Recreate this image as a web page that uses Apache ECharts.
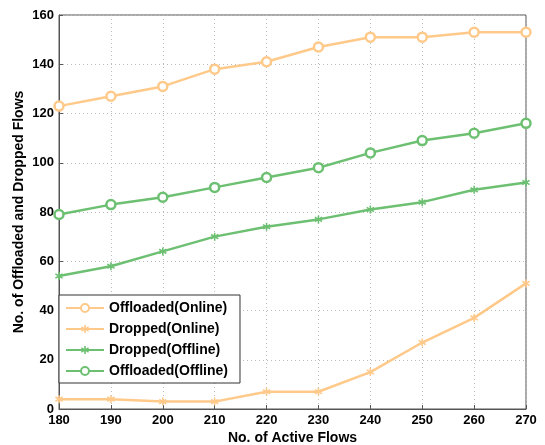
<!DOCTYPE html>
<html><head><meta charset="utf-8">
<script src="https://cdn.jsdelivr.net/npm/echarts@6/dist/echarts.min.js"></script>
<style>html,body{margin:0;padding:0;background:#fff}#c{width:545px;height:445px}</style>
</head><body><div id="c"></div>
<script>
const categories = [180,190,200,210,220,230,240,250,260,270];
const offloadedOnline = [123,127,131,138,141,147,151,151,153,153];
const droppedOnline = [4,4,3,3,7,7,15,27,37,51];
const droppedOffline = [54,58,64,70,74,77,81,84,89,92];
const offloadedOffline = [79,83,86,90,94,98,104,109,112,116];
const yTicks = [0,20,40,60,80,100,120,140,160];

const ORANGE = '#FFC98A', GREEN = '#6DC072';
const starPath = 'path://M-1,-5L1,-5L1,-1.7L4,-3.5L5,-1.8L2,0L5,1.8L4,3.5L1,1.7L1,5L-1,5L-1,1.7L-4,3.5L-5,1.8L-2,0L-5,-1.8L-4,-3.5L-1,-1.7Z';
const font = 'Liberation Sans, Arial, sans-serif';

function mk(name, data, color, symbol, size){
  return {
    name, type:'line', data: categories.map((c,i)=>[c,data[i]]),
    lineStyle:{color, width:2.5},
    itemStyle:{color: symbol==='circle' ? '#fff' : color, borderColor: color, borderWidth: symbol==='circle'?2.5:0},
    symbol, symbolSize: size, showSymbol:true, z: 3
  };
}
const chart = echarts.init(document.getElementById('c'));
chart.setOption({
  animation:false,
  grid:{left:59, right:19, top:15, bottom:36, containLabel:false, outerBoundsMode:'none',
    show:true, borderColor:'#555', borderWidth:1, backgroundColor:'transparent'},
  xAxis:{type:'value', min:180, max:270, interval:10,
    name:'No. of Active Flows', nameLocation:'middle', nameGap:22, nameMoveOverlap:false,
    nameTextStyle:{fontFamily:font, fontWeight:'bold', fontSize:14, color:'#000'},
    axisLine:{show:true, lineStyle:{color:'#555', width:1}},
    axisTick:{show:true, inside:true, length:4, lineStyle:{color:'#555'}},
    axisLabel:{fontFamily:font, fontWeight:'bold', fontSize:13, color:'#000', margin:5},
    splitLine:{show:true, lineStyle:{color:'#bbb', type:[1,3], width:1}}
  },
  yAxis:{type:'value', min:0, max:160, interval:20,
    name:'No. of Offloaded and Dropped Flows', nameLocation:'middle', nameGap:33, nameMoveOverlap:false,
    nameTextStyle:{fontFamily:font, fontWeight:'bold', fontSize:14, color:'#000'},
    axisLine:{show:true, lineStyle:{color:'#555', width:1}},
    axisTick:{show:true, inside:true, length:4, lineStyle:{color:'#555'}},
    axisLabel:{fontFamily:font, fontWeight:'bold', fontSize:13, color:'#000', margin:5,
      formatter: v => yTicks.includes(v) ? String(v) : ''},
    splitLine:{show:true, lineStyle:{color:'#bbb', type:[1,3], width:1}}
  },
  legend:{
    orient:'vertical', left:59, top:295, itemGap:7, itemWidth:38, itemHeight:10,
    padding:[6,12,5,6],
    backgroundColor:'#fff', borderColor:'#333', borderWidth:1,
    textStyle:{fontFamily:font, fontWeight:'bold', fontSize:14, color:'#000'},
    data:['Offloaded(Online)','Dropped(Online)','Dropped(Offline)','Offloaded(Offline)']
  },
  series:[
    mk('Offloaded(Online)', offloadedOnline, ORANGE, 'circle', 9),
    mk('Dropped(Online)', droppedOnline, ORANGE, starPath, 8),
    mk('Dropped(Offline)', droppedOffline, GREEN, starPath, 8),
    mk('Offloaded(Offline)', offloadedOffline, GREEN, 'circle', 9)
  ]
});
</script></body></html>
